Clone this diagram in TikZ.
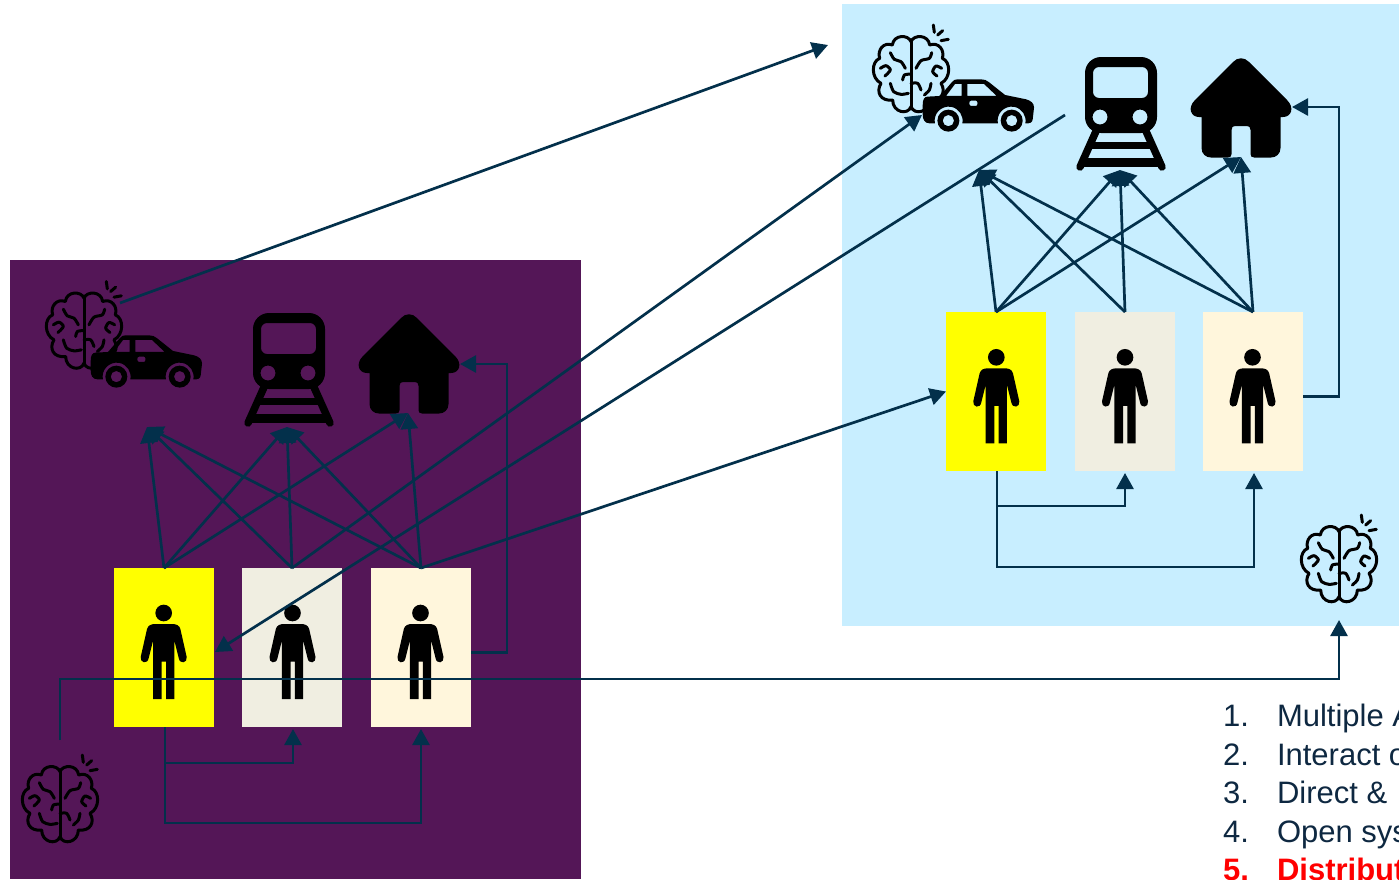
\documentclass[tikz,border=0pt]{standalone}
\usepackage{fontspec}
\setmainfont{Liberation Sans}
\usetikzlibrary{arrows.meta,calc}
\definecolor{linec}{HTML}{03304B}
\definecolor{textc}{HTML}{0E2841}
\definecolor{purplebg}{HTML}{541657}
\definecolor{bluebg}{HTML}{C8EEFF}
\definecolor{yellowcard}{HTML}{FFFF00}
\definecolor{graycard}{HTML}{F0EEE1}
\definecolor{creamcard}{HTML}{FFF6DC}
\tikzset{
  conn/.style={draw=linec,line width=2.7pt},
  arr/.style={conn,-{Triangle[length=16pt,width=17pt]}},
  card/.style={minimum width=100pt,minimum height=159pt,inner sep=0pt,outer sep=0pt},
  listtxt/.style={anchor=base west,inner sep=0pt,outer sep=0pt,font=\fontsize{31}{36}\selectfont,text=textc},
  listred/.style={listtxt,text=red,font=\fontsize{31}{36}\selectfont\bfseries},
  brainicon/.pic={
    \begin{scope}[scale=0.3333,line width=3pt,line cap=round,line join=round,draw=black]
      \draw (0,-100) .. controls (8,-122) and (52,-122) .. (56,-90)
        .. controls (82,-100) and (102,-75) .. (94,-50)
        .. controls (120,-40) and (120,10) .. (90,25)
        .. controls (106,50) and (92,80) .. (55,75)
        .. controls (55,112) and (10,122) .. (0,95)
        .. controls (-10,122) and (-55,112) .. (-55,75)
        .. controls (-92,80) and (-106,50) .. (-90,25)
        .. controls (-120,10) and (-120,-40) .. (-94,-50)
        .. controls (-102,-75) and (-82,-100) .. (-56,-90)
        .. controls (-52,-122) and (-8,-122) .. (0,-100) -- cycle;
      \draw (0,-100) -- (0,95);
      \draw plot[smooth] coordinates {(-62,-67) (-50,-47) (-30,-40) (-17,-20)};
      \draw plot[smooth] coordinates {(62,-67) (55,-50) (30,-43) (15,-20)};
      \draw plot[smooth] coordinates {(-78,3) (-62,-15) (-75,-28) (-92,-20)};
      \draw plot[smooth] coordinates {(78,3) (65,-10) (75,-27) (92,-20)};
      \draw plot[smooth] coordinates {(-62,25) (-52,50) (-30,58) (-8,55)};
      \draw plot[smooth] coordinates {(60,25) (55,45) (40,60)};
      \draw plot[smooth] coordinates {(0,-3) (-20,0) (-25,15)};
      \draw plot[smooth] coordinates {(0,25) (20,25) (30,45)};
      \draw (67,-150) -- (70,-128);
      \draw (95,-133) -- (80,-120);
      \draw (112,-107) -- (90,-103);
    \end{scope}
  },
  caricon/.pic={
    \begin{scope}[scale=0.3333]
      \fill[black,even odd rule]
        (0,77) .. controls (0,60) and (5,52) .. (15,52) -- (52,50)
        -- (88,8) .. controls (92,2) and (98,0) .. (105,0) -- (175,0)
        .. controls (185,0) and (192,3) .. (198,8) -- (247,47)
        -- (310,60) .. controls (325,64) and (334,72) .. (334,85)
        -- (330,120) .. controls (329,130) and (322,133) .. (308,132)
        arc[start angle=11,end angle=-191,radius=42]
        -- (119,132)
        arc[start angle=11,end angle=-191,radius=42]
        -- (20,132) .. controls (5,132) and (0,120) .. (0,105) -- cycle
        (70,50) -- (97,14) -- (117,14) -- (117,50) -- cycle
        (134,50) -- (134,14) -- (184,14) -- (222,50) -- cycle
        (145,64) -- (160,64) .. controls (166,64) and (166,80) .. (160,80)
        -- (145,80) .. controls (138,80) and (138,64) .. (145,64) -- cycle;
      \fill[black,even odd rule] (77,124) circle[radius=33] (77,124) circle[radius=17];
      \fill[black,even odd rule] (267,124) circle[radius=33] (267,124) circle[radius=17];
    \end{scope}
  },
  trainicon/.pic={
    \fill[black,even odd rule] [rounded corners=16pt] (9,0) rectangle (81,76)
      [rounded corners=6pt] (17,10) rectangle (72,41)
      [sharp corners] (24,60) circle[radius=7.5] (64,60) circle[radius=7.5];
    \draw[black,line width=7.5pt,line cap=round] (21,72) -- (4,110);
    \draw[black,line width=7.5pt,line cap=round] (69,72) -- (86,110);
    \fill[black] (12,85) rectangle (78,92);
    \fill[black] (4,101) rectangle (86,110);
  },
  houseicon/.pic={
    \fill[black] (-8,4) .. controls (-3.5,-1) and (3.5,-1) .. (8,4)
      -- (46,42) .. controls (54,50) and (50,59) .. (42,59)
      -- (39.5,59) -- (39.5,90) .. controls (39.5,96) and (35,99.5) .. (30,99.5)
      -- (13,99.5) .. controls (10.5,99.5) and (9.5,98) .. (9.5,96)
      -- (9.5,72) .. controls (9.5,69) and (8,68) .. (6,68)
      -- (-6,68) .. controls (-8,68) and (-9.5,69) .. (-9.5,72)
      -- (-9.5,96) .. controls (-9.5,98) and (-10.5,99.5) .. (-13,99.5)
      -- (-30,99.5) .. controls (-35,99.5) and (-39.5,96) .. (-39.5,90)
      -- (-39.5,59) -- (-42,59) .. controls (-50,59) and (-54,50) .. (-46,42) -- cycle;
  },
  personicon/.pic={
    \begin{scope}[scale=0.3333]
      \fill[black] (0,0) circle[radius=25];
      \fill[black] (-25,33) .. controls (-38,33) and (-47,37) .. (-50,48)
        -- (-69,132) .. controls (-72,150) and (-48,155) .. (-45,135)
        -- (-32,83) -- (-32,258) -- (-6,258) -- (-6,146) -- (7,146) -- (7,258)
        -- (32,258) -- (32,83) -- (45,135)
        .. controls (48,155) and (72,150) .. (69,132)
        -- (50,48) .. controls (47,37) and (38,33) .. (25,33) -- cycle;
    \end{scope}
  }
}
\begin{document}
\begin{tikzpicture}[x=1pt,y=-1pt]
\path[use as bounding box,clip] (0,0) rectangle (1399,879);
% panels
\fill[purplebg] (10,260) rectangle (581,879);
\fill[bluebg] (842,4) rectangle (1399,626);
% cards
\node[card,fill=yellowcard] (ly) at (164,647.5) {};
\node[card,fill=graycard] (lg) at (292,647.5) {};
\node[card,fill=creamcard] (lc) at (421,647.5) {};
\node[card,fill=yellowcard] (ry) at (996,391.5) {};
\node[card,fill=graycard] (rg) at (1125,391.5) {};
\node[card,fill=creamcard] (rc) at (1253,391.5) {};
% icons
\pic at (84,331.5) {brainicon};
\pic at (90.7,335.3) {caricon};
\pic at (244,313) {trainicon};
\pic at (409,314) {houseicon};
\pic at (163.7,613) {personicon};
\pic at (292.5,613) {personicon};
\pic at (420.5,613) {personicon};
\pic at (60,805) {brainicon};
\pic at (911,75) {brainicon};
\pic at (922.7,79.3) {caricon};
\pic at (1076,57) {trainicon};
\pic at (1241,58) {houseicon};
\pic at (996.3,357.3) {personicon};
\pic at (1125,357.3) {personicon};
\pic at (1252.5,357.3) {personicon};
\pic at (1339,565) {brainicon};
% connector end points
\coordinate (lcarT) at (147,427);
\coordinate (ltrainT) at (287,427);
\coordinate (lhouseT) at (408,413);
\coordinate (rcarT) at (979,170);
\coordinate (rtrainT) at (1120,170);
\coordinate (rhouseT) at (1241,157);
\coordinate (lhouseR) at (460,364);
\coordinate (rhouseR) at (1292,107);
\coordinate (lbrainOut) at (120,303);
\coordinate (rbrainIn) at (828,45);
\coordinate (rcarIn) at (922,115);
\coordinate (rtrainOut) at (1065,115);
\coordinate (lyIn) at (215,652);
\coordinate (lbrainB) at (60,740);
\coordinate (rbrainB) at (1339,620);
% left panel connectors
\foreach \s in {ly,lg,lc} {
  \draw[arr] (\s.north) -- (lcarT);
  \draw[arr] (\s.north) -- (ltrainT);
}
\draw[arr] (ly.north) -- (lhouseT);
\draw[arr] (lc.north) -- (lhouseT);
\draw[arr,shorten >=2pt] ([xshift=1pt]ly.south) -- ++(0,36) -| ([xshift=1pt]lg.south);
\draw[arr,shorten >=2pt] ([xshift=1pt]ly.south) -- ++(0,96) -| (lc.south);
\draw[arr] ($(lc.east)+(0,5)$) -| ($(lhouseR)+(47,0)$) -- (lhouseR);
% right panel connectors
\foreach \s in {ry,rg,rc} {
  \draw[arr] (\s.north) -- (rcarT);
  \draw[arr] (\s.north) -- (rtrainT);
}
\draw[arr] (ry.north) -- (rhouseT);
\draw[arr] (rc.north) -- (rhouseT);
\draw[arr,shorten >=2pt] ([xshift=1pt]ry.south) -- ++(0,35) -| (rg.south);
\draw[arr,shorten >=2pt] ([xshift=1pt]ry.south) -- ++(0,96) -| ([xshift=1pt]rc.south);
\draw[arr] ($(rc.east)+(0,5)$) -| ($(rhouseR)+(47,0)$) -- (rhouseR);
% long connectors
\draw[arr] (lbrainOut) -- (rbrainIn);
\draw[arr] (lg.north) -- (rcarIn);
\draw[arr] (rtrainOut) -- (lyIn);
\draw[arr] (lc.north) -- (ry.west);
\draw[arr] (lbrainB) |- ($(rbrainB)+(0,59)$) -- (rbrainB);
% list
\node[listtxt] (n1) at (1223,726.5) {1.};
\node[listtxt] (t1) at (1277,726.5) {Multiple A};
\node[listtxt] (n2) at (1223,765.5) {2.};
\node[listtxt] (t2) at (1277,765.5) {Interact o};
\node[listtxt] (n3) at (1223,803.5) {3.};
\node[listtxt] (t3) at (1277,803.5) {Direct \&};
\node[listtxt] (n4) at (1223,842.5) {4.};
\node[listtxt] (t4) at (1277,842.5) {Open sys};
\node[listred] (n5) at (1223,880.5) {5.};
\node[listred] (t5) at (1277,880.5) {Distribut};
\end{tikzpicture}
\end{document}
